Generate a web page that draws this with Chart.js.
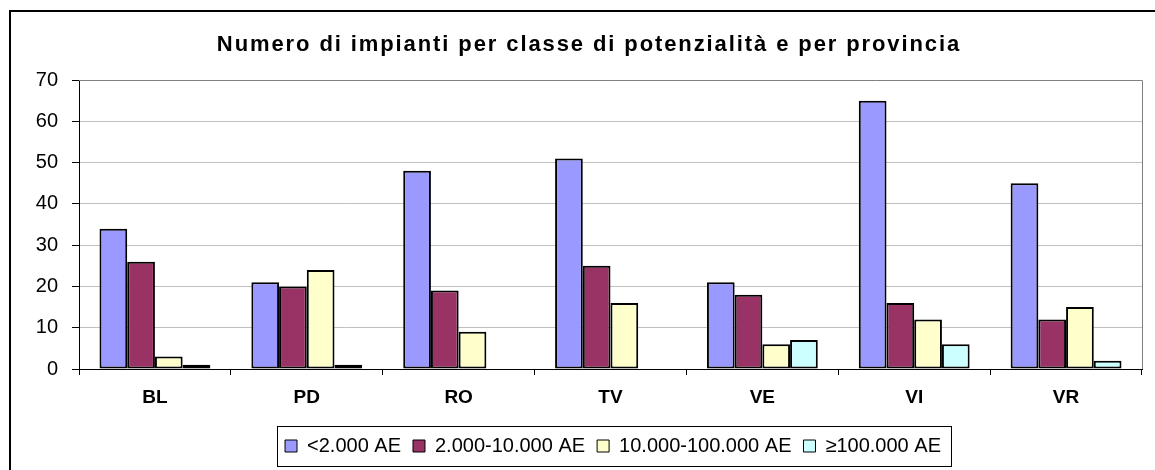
<!DOCTYPE html>
<html>
<head>
<meta charset="utf-8">
<script src="https://cdn.jsdelivr.net/npm/chart.js@4.4.1/dist/chart.umd.min.js"></script>
<style>
  html, body { margin: 0; padding: 0; background: #fff; }
  #wrap { width: 1155px; height: 470px; }
</style>
</head>
<body>
<div id="wrap"><canvas id="chart"></canvas></div>
<script>
// Data
const province = ["BL", "PD", "RO", "TV", "VE", "VI", "VR"];
const classLabels = ["<2.000 AE", "2.000-10.000 AE", "10.000-100.000 AE", "\u2265100.000 AE"];
const lt2000 = [34, 21, 48, 51, 21, 65, 45];
const from2000to10000 = [26, 20, 19, 25, 18, 16, 12];
const from10000to100000 = [3, 24, 9, 16, 6, 12, 15];
const ge100000 = [1, 1, 0, 0, 7, 6, 2];
const yTicks = [0, 10, 20, 30, 40, 50, 60, 70];
const chartTitle = "Numero di impianti per classe di potenzialità e per provincia";

const colors = ["#9999FF", "#993366", "#FFFFCC", "#CCFFFF"];
const font = "'Liberation Sans', Arial, sans-serif";

// frame, title (spaced out like the original), plot border and legend box
const framePlugin = {
  id: "frame",
  afterLayout(chart) {
    // the legend of the original sits a bit right of centre
    const lg = chart.legend;
    lg.left += 37;
    lg.right += 37;
  },
  beforeDraw(chart) {
    const ctx = chart.ctx;
    ctx.save();
    ctx.fillStyle = "#fff";
    ctx.fillRect(0, 0, chart.width, chart.height);
    ctx.restore();
  },
  afterDraw(chart) {
    const ctx = chart.ctx;
    const a = chart.chartArea;
    ctx.save();
    // outer frame
    ctx.strokeStyle = "#000";
    ctx.lineWidth = 2;
    ctx.strokeRect(10, 11, chart.width + 20, chart.height + 20);
    // title
    ctx.fillStyle = "#000";
    ctx.font = "bold 22px " + font;
    if ("letterSpacing" in ctx) ctx.letterSpacing = "1.9px";
    ctx.textAlign = "center";
    ctx.textBaseline = "middle";
    ctx.fillText(chartTitle, 589, 45);
    if ("letterSpacing" in ctx) ctx.letterSpacing = "0px";
    // plot area top/right
    ctx.strokeStyle = "#808080";
    ctx.lineWidth = 1;
    ctx.beginPath();
    ctx.moveTo(a.left, a.top + 0.5);
    ctx.lineTo(a.right + 0.5, a.top + 0.5);
    ctx.lineTo(a.right + 0.5, a.bottom);
    ctx.stroke();
    // legend box
    const boxes = chart.legend.legendHitBoxes;
    if (boxes && boxes.length) {
      let l = Infinity, r = -Infinity, t = Infinity, b = -Infinity;
      boxes.forEach(h => {
        l = Math.min(l, h.left); r = Math.max(r, h.left + h.width);
        t = Math.min(t, h.top); b = Math.max(b, h.top + h.height);
      });
      const cy = (t + b) / 2;
      ctx.strokeStyle = "#000";
      ctx.lineWidth = 1;
      ctx.strokeRect(Math.round(l - 8) + 0.5, Math.round(cy - 20) + 0.5,
        Math.round(r - l + 18), 40);
    }
    ctx.restore();
  }
};

new Chart("chart", {
  type: "bar",
  data: {
    labels: province,
    datasets: [lt2000, from2000to10000, from10000to100000, ge100000].map((d, i) => ({
      label: classLabels[i],
      data: d,
      backgroundColor: colors[i],
      borderColor: "#000",
      borderWidth: 2,
      borderSkipped: false,
      categoryPercentage: 0.73,
      barPercentage: 1.0
    }))
  },
  options: {
    responsive: true,
    maintainAspectRatio: false,
    animation: false,
    devicePixelRatio: 1,
    layout: { padding: { left: 10, right: 13, top: 80, bottom: 4 } },
    plugins: {
      title: { display: false },
      legend: {
        position: "bottom",
        labels: {
          color: "#000",
          font: { family: font, size: 20 },
          boxWidth: 12,
          boxHeight: 12,
          padding: 12,
          generateLabels(chart) {
            return Chart.defaults.plugins.legend.labels.generateLabels(chart)
              .map(item => Object.assign(item, { lineWidth: 1 }));
          }
        }
      },
      tooltip: { enabled: false }
    },
    scales: {
      x: {
        grid: {
          offset: true,
          drawOnChartArea: false,
          tickLength: 6,
          tickColor: "#000"
        },
        border: { color: "#000", width: 1 },
        ticks: {
          color: "#000",
          font: { family: font, size: 19, weight: "bold" },
          padding: 11
        },
        afterFit(scale) { scale.height = 55; }
      },
      y: {
        min: 0,
        max: 70,
        afterBuildTicks(scale) { scale.ticks = yTicks.map(v => ({ value: v })); },
        grid: {
          color: "#C0C0C0",
          tickLength: 7,
          tickColor: "#000"
        },
        border: { color: "#000", width: 1 },
        ticks: {
          color: "#000",
          font: { family: font, size: 20 },
          padding: 14
        },
        afterFit(scale) { scale.width = 69; }
      }
    }
  },
  plugins: [framePlugin]
});
</script>
</body>
</html>
